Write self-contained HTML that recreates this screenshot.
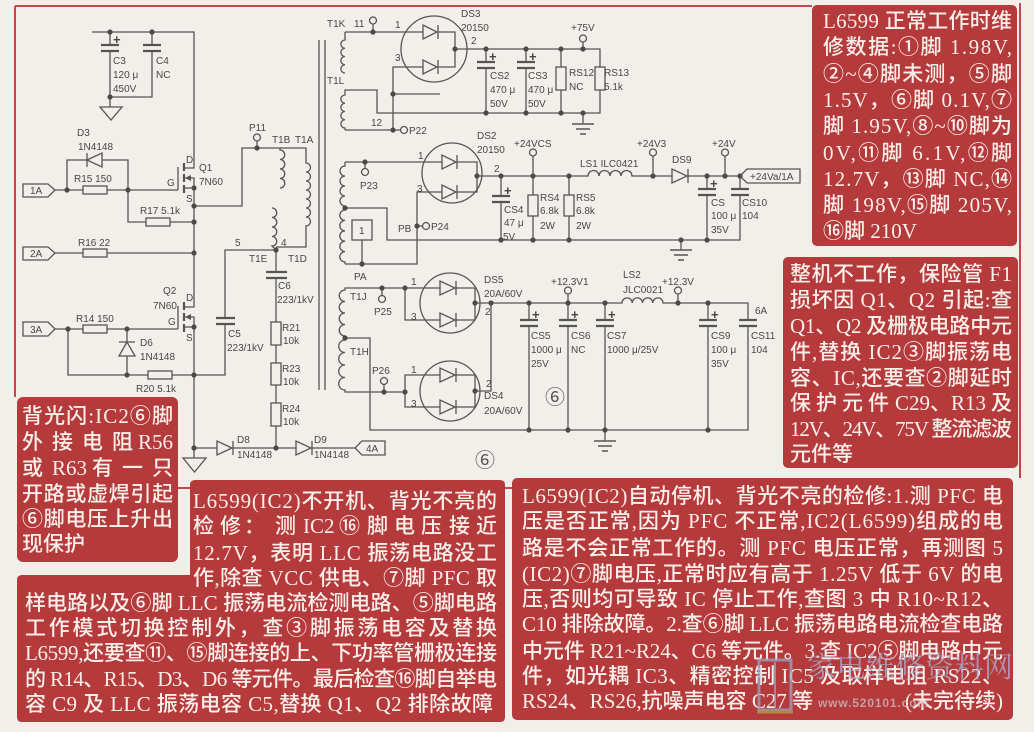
<!DOCTYPE html>
<html><head><meta charset="utf-8">
<style>
html,body{margin:0;padding:0;background:#f2efeb;}
svg{display:block}
.w{stroke:#555;stroke-width:1.3;fill:none}
.p{stroke:#555;stroke-width:2.2;fill:none}
.t{font-family:"Liberation Sans","DejaVu Sans",sans-serif;font-size:10px;fill:#474747}
.b{font-family:"Liberation Serif","Noto Sans CJK SC",serif;font-size:21px;fill:#fbeee9;font-weight:500}
.pl{font-family:"Liberation Sans",sans-serif;font-size:13px;font-weight:bold;fill:#474747}
</style></head><body>
<svg width="1034" height="732" viewBox="0 0 1034 732" xmlns="http://www.w3.org/2000/svg">
<rect width="1034" height="732" fill="#f2efeb"/>

<!-- red frame lines -->
<g stroke="#c2464a" stroke-width="2" fill="none">
<path d="M15 6 H812"/>
<path d="M15 6 V397"/>
<path d="M1020 3 V478"/>
<path d="M178 488 H190"/>
<path d="M505 488 H512"/>
</g>

<!-- ================= LEFT PRIMARY ================= -->
<g class="w">
<path d="M92 32 H194 V168 H184"/>
<path d="M110 32 V45 M110 51 V97 H152 V51 M152 32 V45"/>
<path d="M110 97 V107"/>
<path d="M100 107 H122 L111 120 Z"/>
<path d="M23 184 H48 L55 190 L48 197 H23 Z"/>
<path d="M55 190 H83 M107 190 H178"/>
<rect x="83" y="186" width="24" height="8"/>
<path d="M67 190 V160 H87 M87 153 V167 M102 160 H128 V222 H146"/>
<path d="M87 160 L102 153 L102 167 Z"/>
<rect x="146" y="218" width="24" height="8"/>
<path d="M170 222 H194"/>
<path d="M178 167 V190"/>
<path d="M184 178 H194 V307 H184"/>
<path d="M184 188 H194"/>
<path d="M194 206 H242 V148 H306 V163 a4.5 4.5 0 0 1 0 9 a4.5 4.5 0 0 1 0 9 a4.5 4.5 0 0 1 0 9 a4.5 4.5 0 0 1 0 9 a4.5 4.5 0 0 1 0 9 a4.5 4.5 0 0 1 0 9 a4.5 4.5 0 0 1 0 9 V247 H276"/>
<path d="M257 148 V141"/>
<path d="M280 148 V150 a4.75 4.75 0 0 1 0 9.5 a4.75 4.75 0 0 1 0 9.5 a4.75 4.75 0 0 1 0 9.5 a4.75 4.75 0 0 1 0 9.5"/>
<path d="M272 208 a4.75 4.75 0 0 1 0 9.5 a4.75 4.75 0 0 1 0 9.5 a4.75 4.75 0 0 1 0 9.5 a4.75 4.75 0 0 1 0 9.5 L276 250"/>
<path d="M23 247 H48 L55 253 L48 260 H23 Z"/>
<path d="M55 253 H83 M107 253 H194"/>
<rect x="83" y="249" width="24" height="8"/>
<path d="M178 306 V329"/>
<path d="M184 317 H194 V458"/>
<path d="M184 327 H194"/>
<path d="M23 322 H48 L55 329 L48 336 H23 Z"/>
<path d="M55 329 H83 M107 329 H178"/>
<rect x="83" y="325" width="24" height="8"/>
<path d="M127 329 V342 M119 342 H135 M127 356 V375"/>
<path d="M127 342 L119 356 L135 356 Z"/>
<path d="M68 329 V375 H148 M172 375 H194"/>
<rect x="148" y="371" width="24" height="8"/>
<path d="M276 250 H225 V318 M225 324 V375 H194"/>
<path d="M276 250 V272 M276 278 V322 M276 345 V363 M276 385 V403 M276 426 V448"/>
<rect x="271" y="322" width="10" height="23"/>
<rect x="271" y="363" width="10" height="22"/>
<rect x="271" y="403" width="10" height="23"/>
<path d="M194 448 H217 M233 441 V455 M233 448 H296 M312 441 V455 M312 448 H355"/>
<path d="M217 441 L217 455 L232 448 Z"/>
<path d="M296 441 L296 455 L311 448 Z"/>
<path d="M355 448 L362 441 H385 V455 H362 Z"/>
<path d="M183 458 H206 L194.5 472 Z"/>
<path d="M319 40 V390 M325 40 V390"/>
</g>
<g class="p">
<path d="M101 45 H119 M101 51 H119"/>
<path d="M143 45 H161 M143 51 H161"/>
<path d="M184 163 V171 M184 174 V182 M184 185 V193"/>
<path d="M184 302 V310 M184 313 V321 M184 324 V332"/>
<path d="M216 318 H235 M216 324 H235"/>
<path d="M266 272 H287 M266 278 H287"/>
</g>
<g fill="#555">
<path d="M185 178 L191 175 L191 181 Z"/>
<path d="M185 317 L191 314 L191 320 Z"/>
</g>
<circle cx="257" cy="137.5" r="3.5" fill="none" stroke="#555" stroke-width="1.3"/>

<!-- ================= SECONDARY ================= -->
<g class="w">
<path d="M345 32 H423 M438 32 H455 V67 H438 M423 67 H393 V130 H400"/>
<path d="M345 32 V40 a4.1 4.1 0 0 0 0 8.25 a4.1 4.1 0 0 0 0 8.25 a4.1 4.1 0 0 0 0 8.25 a4.1 4.1 0 0 0 0 8.25"/>
<path d="M373 32 V24"/>
<circle cx="434" cy="49" r="33"/>
<path d="M423 25 L423 39 L437 32 Z M438 25 V39"/>
<path d="M423 60 L423 74 L437 67 Z M438 60 V74"/>
<path d="M455 49 H600 V67 M600 90 V113 H377 V90 H345 V95 a4.1 4.1 0 0 0 0 8.25 a4.1 4.1 0 0 0 0 8.25 a4.1 4.1 0 0 0 0 8.25 a4.1 4.1 0 0 0 0 8.25 V130"/>
<path d="M345 130 H393"/>
<rect x="595" y="67" width="10" height="23"/>
<path d="M393 94 H440"/>
<path d="M486 49 V62 M486 68 V113 M526 49 V62 M526 68 V113"/>
<path d="M561 49 V67 M561 90 V113"/>
<rect x="556" y="67" width="10" height="23"/>
<path d="M583 49 V42"/>
<path d="M583 113 V124"/>
<path d="M345 162 H442 M457 162 H477 V192 H457 M442 192 H417 V264 H345"/>
<path d="M345 162 V166 a5 5 0 0 0 0 10 a5 5 0 0 0 0 10 a5 5 0 0 0 0 10 a5 5 0 0 0 0 10 V210 a5.2 5.2 0 0 0 0 10.4 a5.2 5.2 0 0 0 0 10.4 a5.2 5.2 0 0 0 0 10.4 a5.2 5.2 0 0 0 0 10.4 a5.2 5.2 0 0 0 0 10.4 V264"/>
<path d="M345 208 H387 V240 H740 V195"/>
<path d="M365 162 V168"/>
<rect x="352" y="220" width="20" height="20"/>
<path d="M362 240 V264"/>
<path d="M417 226 H422"/>
<circle cx="452" cy="173" r="30"/>
<path d="M442 155 L442 169 L456 162 Z M457 155 V169"/>
<path d="M442 185 L442 199 L456 192 Z M457 185 V199"/>
<path d="M477 176 H588 a5.5 5.5 0 0 1 11 0 a5.5 5.5 0 0 1 11 0 a5.5 5.5 0 0 1 11 0 a5.5 5.5 0 0 1 11 0 H672 M688 176 H740"/>
<path d="M672 169 L672 183 L687 176 Z M688 169 V183"/>
<path d="M740 176 L747 169 H800 V183 H747 Z"/>
<path d="M501 176 V196 M501 202 V240"/>
<path d="M533 176 V195 M533 216 V240 M569 176 V195 M569 216 V240"/>
<rect x="528" y="195" width="10" height="21"/>
<rect x="564" y="195" width="10" height="21"/>
<path d="M533 176 V156 M653 176 V156 M725 176 V156"/>
<path d="M707 176 V189 M707 195 V240 M740 176 V189"/>
<path d="M681 240 V250"/>
<path d="M440 288 H345 V290 a5.75 5.75 0 0 0 0 11.5 a5.75 5.75 0 0 0 0 11.5 a5.75 5.75 0 0 0 0 11.5 a5.75 5.75 0 0 0 0 11.5 V340 a6.25 6.25 0 0 0 0 12.5 a6.25 6.25 0 0 0 0 12.5 a6.25 6.25 0 0 0 0 12.5 a6.25 6.25 0 0 0 0 12.5 V392 H405 V375 H440 M405 392 V407 H440"/>
<path d="M405 288 V320 H440 M456 288 H475 V320 H456"/>
<circle cx="450" cy="303" r="30"/>
<circle cx="450" cy="391" r="30"/>
<path d="M440 281 L440 295 L455 288 Z M456 281 V295"/>
<path d="M440 313 L440 327 L455 320 Z M456 313 V327"/>
<path d="M440 368 L440 382 L455 375 Z M456 368 V382"/>
<path d="M440 400 L440 414 L455 407 Z M456 400 V414"/>
<path d="M456 375 H475 V407 H456 M475 391 H491 V303"/>
<path d="M475 303 H622 a5.125 5.125 0 0 1 10.25 0 a5.125 5.125 0 0 1 10.25 0 a5.125 5.125 0 0 1 10.25 0 a5.125 5.125 0 0 1 10.25 0 H748 V320 M748 326 V430 H370 V338 H345"/>
<path d="M382 288 V295 M384 392 V385"/>
<path d="M529 303 V320 M529 326 V430 M568 303 V320 M568 326 V430 M605 303 V320 M605 326 V430 M708 303 V320 M708 326 V430"/>
<path d="M568 303 V294 M678 303 V294"/>
<path d="M605 430 V441"/>
</g>
<g class="p">
<path d="M477 62 H495 M477 68 H495 M517 62 H535 M517 68 H535"/>
<path d="M492 196 H510 M492 202 H510"/>
<path d="M698 189 H716 M698 195 H716 M731 189 H749 M731 195 H749"/>
<path d="M520 320 H538 M520 326 H538 M559 320 H577 M559 326 H577 M596 320 H614 M596 326 H614 M699 320 H717 M699 326 H717 M739 320 H757 M739 326 H757"/>
</g>
<g stroke="#555" stroke-width="1.6">
<path d="M572 124 H594 M576 129 H590 M580 134 H586"/>
<path d="M670 250 H692 M674 255 H688 M678 260 H684"/>
<path d="M594 441 H616 M598 446 H612 M602 451 H608"/>
</g>
<g fill="none" stroke="#555" stroke-width="1.3">
<circle cx="373" cy="20.5" r="3.5"/>
<circle cx="404" cy="130" r="3.5"/>
<circle cx="583" cy="38.5" r="3.5"/>
<circle cx="365" cy="172" r="3.5"/>
<circle cx="426" cy="226" r="3.5"/>
<circle cx="533" cy="152.5" r="3.5"/>
<circle cx="653" cy="152.5" r="3.5"/>
<circle cx="725" cy="152.5" r="3.5"/>
<circle cx="382" cy="299" r="3.5"/>
<circle cx="384" cy="381" r="3.5"/>
<circle cx="568" cy="290.5" r="3.5"/>
<circle cx="678" cy="290.5" r="3.5"/>
</g>

<g fill="#4a4a4a">
<circle cx="110" cy="32" r="2.6"/><circle cx="152" cy="32" r="2.6"/><circle cx="110" cy="97" r="2.6"/>
<circle cx="67" cy="190" r="2.6"/><circle cx="128" cy="190" r="2.6"/><circle cx="194" cy="188" r="2.6"/>
<circle cx="194" cy="206" r="2.6"/><circle cx="194" cy="222" r="2.6"/><circle cx="257" cy="148" r="2.6"/>
<circle cx="276" cy="250" r="2.6"/><circle cx="194" cy="253" r="2.6"/><circle cx="194" cy="327" r="2.6"/>
<circle cx="68" cy="329" r="2.6"/><circle cx="127" cy="329" r="2.6"/><circle cx="127" cy="375" r="2.6"/>
<circle cx="194" cy="375" r="2.6"/><circle cx="194" cy="448" r="2.6"/><circle cx="276" cy="448" r="2.6"/>
<circle cx="373" cy="32" r="2.6"/><circle cx="455" cy="49" r="2.6"/><circle cx="393" cy="94" r="2.6"/>
<circle cx="393" cy="130" r="2.6"/><circle cx="486" cy="49" r="2.6"/><circle cx="526" cy="49" r="2.6"/>
<circle cx="561" cy="49" r="2.6"/><circle cx="583" cy="49" r="2.6"/><circle cx="486" cy="113" r="2.6"/>
<circle cx="526" cy="113" r="2.6"/><circle cx="561" cy="113" r="2.6"/><circle cx="583" cy="113" r="2.6"/>
<circle cx="365" cy="162" r="2.6"/><circle cx="477" cy="176" r="2.6"/><circle cx="345" cy="208" r="2.6"/>
<circle cx="362" cy="264" r="2.6"/><circle cx="417" cy="226" r="2.6"/><circle cx="501" cy="176" r="2.6"/>
<circle cx="533" cy="176" r="2.6"/><circle cx="569" cy="176" r="2.6"/><circle cx="653" cy="176" r="2.6"/>
<circle cx="707" cy="176" r="2.6"/><circle cx="725" cy="176" r="2.6"/><circle cx="740" cy="176" r="2.6"/>
<circle cx="501" cy="240" r="2.6"/><circle cx="533" cy="240" r="2.6"/><circle cx="569" cy="240" r="2.6"/>
<circle cx="681" cy="240" r="2.6"/><circle cx="707" cy="240" r="2.6"/>
<circle cx="382" cy="288" r="2.6"/><circle cx="405" cy="288" r="2.6"/><circle cx="475" cy="303" r="2.6"/>
<circle cx="491" cy="303" r="2.6"/><circle cx="345" cy="338" r="2.6"/><circle cx="384" cy="392" r="2.6"/>
<circle cx="405" cy="392" r="2.6"/><circle cx="475" cy="391" r="2.6"/><circle cx="529" cy="303" r="2.6"/>
<circle cx="568" cy="303" r="2.6"/><circle cx="605" cy="303" r="2.6"/><circle cx="678" cy="303" r="2.6"/>
<circle cx="708" cy="303" r="2.6"/><circle cx="529" cy="430" r="2.6"/><circle cx="568" cy="430" r="2.6"/>
<circle cx="605" cy="430" r="2.6"/><circle cx="708" cy="430" r="2.6"/>
</g>

<g class="t">
<text x="113" y="64">C3</text><text x="113" y="78">120 μ</text><text x="113" y="92">450V</text>
<text x="156" y="64">C4</text><text x="156" y="78">NC</text>
<text x="77" y="136">D3</text><text x="78" y="150">1N4148</text>
<text x="74" y="182">R15  150</text>
<text x="30" y="194">1A</text><text x="30" y="257">2A</text><text x="30" y="333">3A</text>
<text x="186" y="163">D</text><text x="167" y="186">G</text><text x="186" y="202">S</text>
<text x="199" y="171">Q1</text><text x="199" y="185">7N60</text>
<text x="140" y="214">R17  5.1k</text>
<text x="249" y="131">P11</text><text x="272" y="143">T1B</text><text x="295" y="143">T1A</text>
<text x="235" y="246">5</text><text x="281" y="246">4</text>
<text x="249" y="262">T1E</text><text x="288" y="262">T1D</text>
<text x="78" y="246">R16  22</text>
<text x="163" y="294">Q2</text><text x="153" y="309">7N60</text>
<text x="186" y="301">D</text><text x="168" y="325">G</text><text x="186" y="341">S</text>
<text x="76" y="322">R14  150</text>
<text x="140" y="346">D6</text><text x="140" y="360">1N4148</text>
<text x="136" y="392">R20  5.1k</text>
<text x="228" y="337">C5</text><text x="227" y="351">223/1kV</text>
<text x="278" y="289">C6</text><text x="277" y="303">223/1kV</text>
<text x="282" y="331">R21</text><text x="283" y="344">10k</text>
<text x="282" y="372">R23</text><text x="283" y="385">10k</text>
<text x="282" y="412">R24</text><text x="283" y="425">10k</text>
<text x="237" y="443">D8</text><text x="237" y="458">1N4148</text>
<text x="314" y="443">D9</text><text x="314" y="458">1N4148</text>
<text x="366" y="452">4A</text>

<text x="327" y="27">T1K</text><text x="354" y="27">11</text>
<text x="395" y="28">1</text><text x="395" y="61">3</text><text x="471" y="44">2</text>
<text x="461" y="17">DS3</text><text x="461" y="31">20150</text>
<text x="327" y="84">T1L</text><text x="371" y="126">12</text><text x="409" y="134">P22</text>
<text x="490" y="79">CS2</text><text x="490" y="93">470 μ</text><text x="490" y="107">50V</text>
<text x="528" y="79">CS3</text><text x="528" y="93">470 μ</text><text x="528" y="107">50V</text>
<text x="569" y="76">RS12</text><text x="569" y="90">NC</text>
<text x="604" y="76">RS13</text><text x="604" y="90">5.1k</text>
<text x="571" y="31">+75V</text>

<text x="477" y="139">DS2</text><text x="477" y="153">20150</text>
<text x="418" y="159">1</text><text x="417" y="192">3</text><text x="494" y="172">2</text>
<text x="360" y="189">P23</text><text x="398" y="232">PB</text><text x="431" y="230">P24</text>
<text x="359" y="234">1</text>
<text x="354" y="280">PA</text>
<text x="514" y="147">+24VCS</text>
<text x="580" y="167">LS1  ILC0421</text>
<text x="637" y="147">+24V3</text>
<text x="672" y="163">DS9</text>
<text x="712" y="147">+24V</text>
<text x="750" y="180">+24Va/1A</text>
<text x="504" y="213">CS4</text><text x="504" y="226">47 μ</text><text x="503" y="240">5V</text>
<text x="540" y="201">RS4</text><text x="540" y="214">6.8k</text><text x="540" y="229">2W</text>
<text x="576" y="201">RS5</text><text x="576" y="214">6.8k</text><text x="576" y="229">2W</text>
<text x="711" y="206">CS</text><text x="711" y="219">100 μ</text><text x="711" y="233">35V</text>
<text x="742" y="206">CS10</text><text x="742" y="219">104</text>

<text x="350" y="300">T1J</text><text x="374" y="315">P25</text>
<text x="411" y="285">1</text><text x="411" y="320">3</text><text x="485" y="315">2</text>
<text x="484" y="283">DS5</text><text x="484" y="297">20A/60V</text>
<text x="350" y="355">T1H</text><text x="372" y="374">P26</text>
<text x="411" y="373">1</text><text x="411" y="407">3</text><text x="486" y="387">2</text>
<text x="484" y="399">DS4</text><text x="484" y="414">20A/60V</text>
<text x="551" y="285">+12.3V1</text>
<text x="623" y="278">LS2</text><text x="623" y="293">JLC0021</text>
<text x="662" y="285">+12.3V</text>
<text x="755" y="314">6A</text>
<text x="531" y="339">CS5</text><text x="531" y="353">1000 μ</text><text x="531" y="367">25V</text>
<text x="571" y="339">CS6</text><text x="571" y="353">NC</text>
<text x="607" y="339">CS7</text><text x="607" y="353">1000 μ/25V</text>
<text x="711" y="339">CS9</text><text x="711" y="353">100 μ</text><text x="711" y="367">35V</text>
<text x="751" y="339">CS11</text><text x="751" y="353">104</text>
</g>
<g class="pl">
<text x="113" y="44">+</text>
<text x="489" y="61">+</text><text x="529" y="61">+</text>
<text x="504" y="195">+</text><text x="710" y="188">+</text>
<text x="532" y="319">+</text><text x="571" y="319">+</text><text x="608" y="319">+</text><text x="711" y="319">+</text>
</g>
<g font-family="Liberation Serif,'Noto Sans CJK SC',serif" font-size="20" fill="#555" text-anchor="middle">
<text x="555" y="404">⑥</text>
<text x="485" y="467">⑥</text>
</g>

<!-- ================= RED BOXES ================= -->
<g fill="#b53a3c">
<rect x="812" y="5" width="205" height="241" rx="5"/>
<rect x="783" y="257" width="235" height="211" rx="5"/>
<rect x="17" y="397" width="161" height="165" rx="6"/>
<path d="M195 480 H500 Q505 480 505 485 V717 Q505 722 500 722 H22 Q17 722 17 717 V580 Q17 575 22 575 H190 V485 Q190 480 195 480 Z"/>
<rect x="512" y="478" width="501" height="242" rx="5"/>
</g>

<g class="b">
<!-- box 1 -->
<text x="823" y="28" textLength="189">L6599 正常工作时维</text>
<text x="823" y="54" textLength="189">修数据:①脚 1.98V,</text>
<text x="823" y="81" textLength="189">②~④脚未测，⑤脚</text>
<text x="823" y="107" textLength="189">1.5V，⑥脚 0.1V,⑦</text>
<text x="823" y="133" textLength="189">脚 1.95V,⑧~⑩脚为</text>
<text x="823" y="160" textLength="189">0V,⑪脚 6.1V,⑫脚</text>
<text x="823" y="186" textLength="189">12.7V，⑬脚 NC,⑭</text>
<text x="823" y="212" textLength="189">脚 198V,⑮脚 205V,</text>
<text x="823" y="238">⑯脚 210V</text>
<!-- box 2 -->
<text x="790" y="281" textLength="222">整机不工作，保险管 F1</text>
<text x="790" y="307" textLength="222">损坏因 Q1、Q2 引起:查</text>
<text x="790" y="333" textLength="222">Q1、Q2 及栅极电路中元</text>
<text x="790" y="359" textLength="222">件,替换 IC2③脚振荡电</text>
<text x="790" y="385" textLength="222">容、IC,还要查②脚延时</text>
<text x="790" y="410">保</text><text x="816" y="410">护</text><text x="842" y="410">元</text><text x="868" y="410">件</text>
<text x="895" y="410">C29、R13</text><text x="1012" y="410" text-anchor="end">及</text>
<text x="790" y="436" textLength="222">12V、24V、75V 整流滤波</text>
<text x="790" y="461">元件等</text>
<!-- 背光闪 -->
<text x="22" y="423" textLength="151">背光闪:IC2⑥脚</text>
<text x="22" y="449">外</text><text x="52" y="449">接</text><text x="82" y="449">电</text><text x="112" y="449">阻</text><text x="173" y="449" text-anchor="end">R56</text>
<text x="22" y="475">或</text><text x="52" y="475">R63</text><text x="92" y="475">有</text><text x="122" y="475">一</text><text x="152" y="475">只</text>
<text x="22" y="501" textLength="151">开路或虚焊引起</text>
<text x="22" y="526" textLength="151">⑥脚电压上升出</text>
<text x="22" y="551">现保护</text>
<!-- bottom-left -->
<text x="193" y="508" textLength="304">L6599(IC2)不开机、背光不亮的</text>
<text x="193" y="533">检</text><text x="220" y="533">修</text><text x="244" y="533">：</text><text x="275" y="533">测</text>
<text x="303" y="533">IC2</text><text x="339" y="533">⑯</text><text x="367" y="533">脚</text><text x="394" y="533">电</text>
<text x="421" y="533">压</text><text x="449" y="533">接</text><text x="476" y="533">近</text>
<text x="193" y="560" textLength="304">12.7V，表明 LLC 振荡电路没工</text>
<text x="193" y="585" textLength="304">作,除查 VCC 供电、⑦脚 PFC 取</text>
<text x="25" y="610" textLength="472">样电路以及⑥脚 LLC 振荡电流检测电路、⑤脚电路</text>
<text x="25" y="635" textLength="472">工作模式切换控制外，查③脚振荡电容及替换</text>
<text x="25" y="660" textLength="472">L6599,还要查⑪、⑮脚连接的上、下功率管栅极连接</text>
<text x="25" y="686" textLength="472">的 R14、R15、D3、D6 等元件。最后检查⑯脚自举电</text>
<text x="25" y="711" textLength="468">容 C9 及 LLC 振荡电容 C5,替换 Q1、Q2 排除故障</text>
<!-- bottom-right -->
<text x="522" y="503" textLength="481">L6599(IC2)自动停机、背光不亮的检修:1.测 PFC 电</text>
<text x="522" y="528" textLength="481">压是否正常,因为 PFC 不正常,IC2(L6599)组成的电</text>
<text x="522" y="555" textLength="481">路是不会正常工作的。测 PFC 电压正常，再测图 5</text>
<text x="522" y="581" textLength="481">(IC2)⑦脚电压,正常时应有高于 1.25V 低于 6V 的电</text>
<text x="522" y="606" textLength="481">压,否则均可导致 IC 停止工作,查图 3 中 R10~R12、</text>
<text x="522" y="631" textLength="481">C10 排除故障。2.查⑥脚 LLC 振荡电路电流检查电路</text>
<text x="522" y="658" textLength="481">中元件 R21~R24、C6 等元件。3.查 IC2⑤脚电路中元</text>
<text x="522" y="683" textLength="481">件，如光耦 IC3、精密控制 IC5 及取样电阻 RS22、</text>
<text x="522" y="708">RS24、RS26,抗噪声电容 C27 等</text>
<text x="1003" y="708" text-anchor="end">(未完待续)</text>
</g>

<g opacity="0.75">
<rect x="759" y="660" width="32" height="50" fill="none" stroke="#9aa6c4" stroke-width="3"/>
<path d="M775 662 V708" stroke="#9aa6c4" stroke-width="2"/>
<path d="M757 712 H793" stroke="#b7a24a" stroke-width="3"/>
<text x="807" y="677" font-family="'Noto Serif CJK SC','Noto Sans CJK SC',serif" font-size="29" fill="#a9b4d2" textLength="206">家电维修资料网</text>
<text x="818" y="707" font-family="'Liberation Sans',sans-serif" font-size="12" font-weight="bold" fill="#c9c2c6" textLength="110">www.520101.com</text>
</g>
</svg>
</body></html>
